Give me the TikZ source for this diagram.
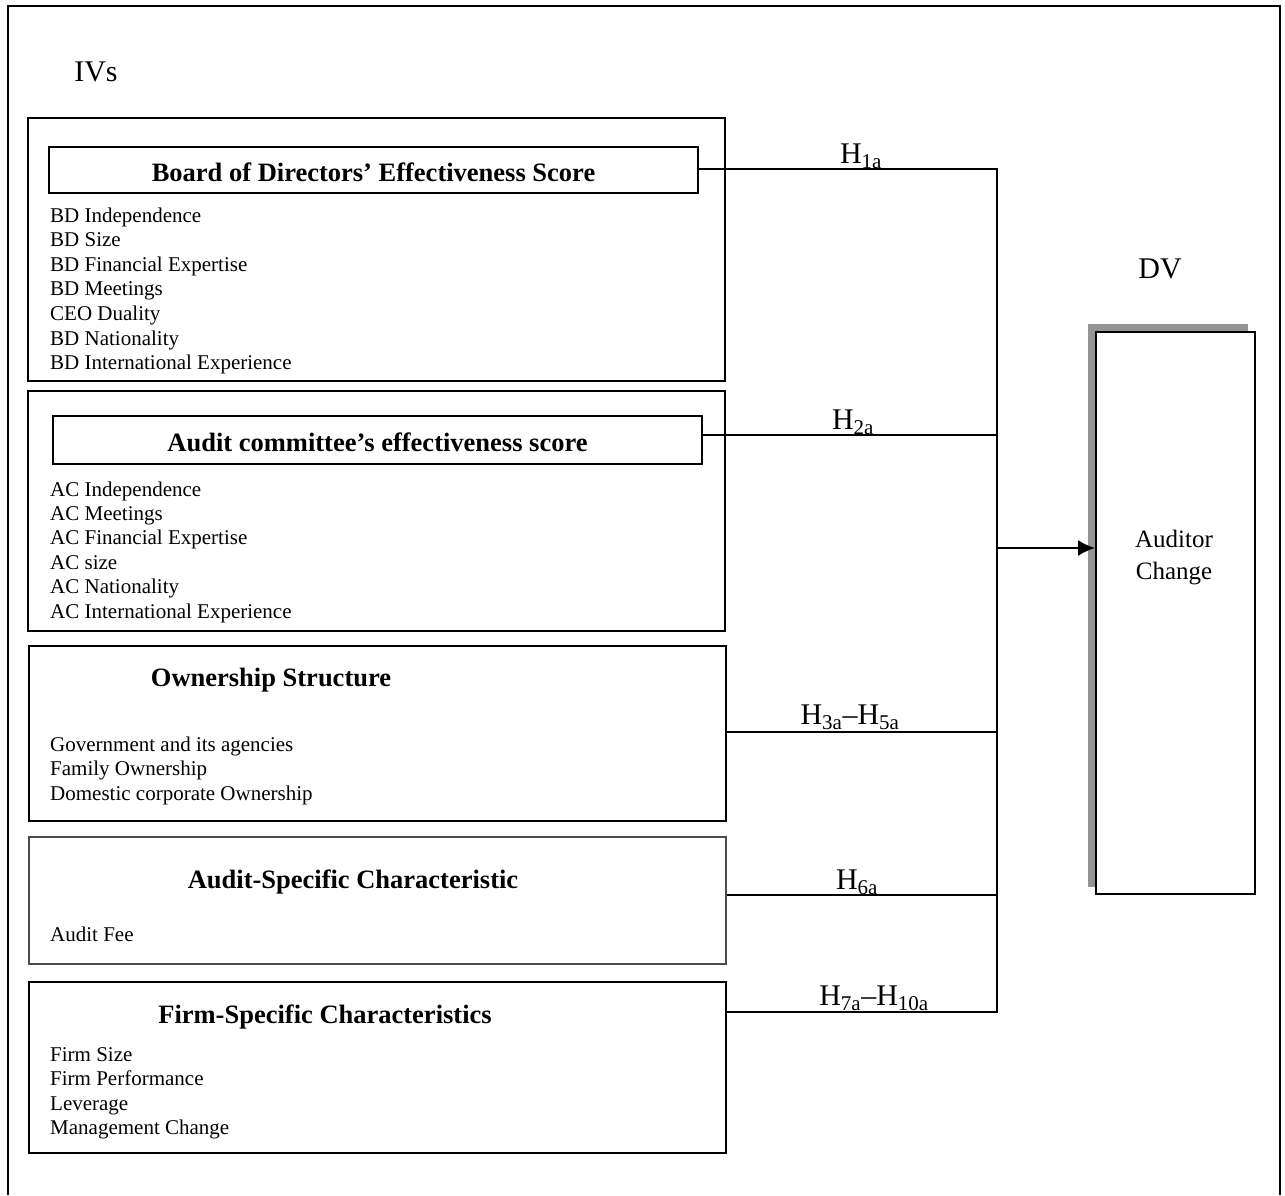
\documentclass[tikz,border=0pt]{standalone}
\usepackage{fontspec}
\setmainfont{Liberation Serif}
\usetikzlibrary{arrows.meta}
\begin{document}
\begin{tikzpicture}[x=1pt,y=-1pt,
  frame/.style={draw, line width=2pt},
  boxline/.style={draw, line width=2pt},
  item/.style={anchor=west, inner sep=0pt, font=\fontsize{21}{25}\selectfont, text height=14pt, text depth=4pt},
  head/.style={font=\bfseries\fontsize{26.5}{30}\selectfont, inner sep=0pt},
  hyp/.style={font=\fontsize{30}{36}\selectfont, anchor=base, inner sep=0pt},
  conn/.style={line width=2pt},
]
\useasboundingbox (0,0) rectangle (1285,1195);
% outer frame (open at bottom)
\draw[frame] (8,1195) -- (8,6) -- (1280,6) -- (1280,1195);
\node[font=\fontsize{30}{36}\selectfont, inner sep=0pt] (ivs) at (96,72) {IVs};

% Box 1: Board of directors
\draw[boxline] (28,118) rectangle (725,381);
\node[boxline, minimum width=649pt, minimum height=46pt, anchor=north west, inner sep=0pt] (bdt) at (48,146) {};
\node[head] (bdh) at ([yshift=-2pt]bdt.center) {Board of Directors’ Effectiveness Score};
\foreach \t [count=\i] in {BD Independence, BD Size, BD Financial Expertise, BD Meetings, CEO Duality, BD Nationality, BD International Experience}
  \node[item] (bd\i) at (50,{217+24.6*(\i-1)}) {\t};

% Box 2: Audit committee
\draw[boxline] (28,391) rectangle (725,631);
\node[boxline, minimum width=649pt, minimum height=48pt, anchor=north west, inner sep=0pt] (act) at (52,415) {};
\node[head] (ach) at ([yshift=-2pt]act.center) {Audit committee’s effectiveness score};
\foreach \t [count=\i] in {AC Independence, AC Meetings, AC Financial Expertise, AC size, AC Nationality, AC International Experience}
  \node[item] (ac\i) at (50,{491+24.4*(\i-1)}) {\t};

% Box 3: Ownership
\node[boxline, minimum width=697pt, minimum height=175pt, anchor=north west, inner sep=0pt] (own) at (28,645) {};
\node[head] (ownh) at (271,680) {Ownership Structure};
\foreach \t [count=\i] in {Government and its agencies, Family Ownership, Domestic corporate Ownership}
  \node[item] (ow\i) at (50,{746+24.5*(\i-1)}) {\t};

% Box 4: Audit-specific
\node[draw=black!70, line width=2pt, minimum width=697pt, minimum height=127pt, anchor=north west, inner sep=0pt] (aud) at (28,836) {};
\node[head] (audh) at (353,882) {Audit-Specific Characteristic};
\node[item] (au1) at (50,936) {Audit Fee};

% Box 5: Firm-specific
\node[boxline, minimum width=697pt, minimum height=171pt, anchor=north west, inner sep=0pt] (firm) at (28,981) {};
\node[head] (firmh) at (325,1017) {Firm-Specific Characteristics};
\foreach \t [count=\i] in {Firm Size, Firm Performance, Leverage, Management Change}
  \node[item] (fi\i) at (50,{1056+24.5*(\i-1)}) {\t};

% DV box with shadow
\fill[black!42] (1088,324) rectangle (1248,887);
\node[draw, line width=2pt, fill=white, minimum width=159pt, minimum height=562pt, anchor=north west, inner sep=0pt] (dv) at (1095,331) {};
\node[font=\fontsize{25}{32}\selectfont, align=center, inner sep=0pt] (dvt) at (1174,558) {Auditor\\Change};
\node[font=\fontsize{30}{36}\selectfont, inner sep=0pt] (dvl) at (1160,269) {DV};

% connectors
\coordinate (j1) at (997,169);
\coordinate (j2) at (997,435);
\coordinate (j3) at (997,732);
\coordinate (j4) at (997,895);
\coordinate (j5) at (997,1012);
\coordinate (ja) at (997,548);
\draw[conn] (bdt.east |- j1) -- (j1);
\draw[conn] (act.east |- j2) -- (j2);
\draw[conn] (own.east |- j3) -- (j3);
\draw[conn] (aud.east |- j4) -- (j4);
\draw[conn] (firm.east |- j5) -- (j5);
\draw[conn, line cap=rect] (j1) -- (j5);
\draw[conn, -{Latex[length=17pt,width=16pt]}] (ja) -- (dv.west |- ja);

\node[hyp] (h1) at (861,163) {H\textsubscript{1a}};
\node[hyp] (h2) at (853,429) {H\textsubscript{2a}};
\node[hyp] (h3) at (850,724) {H\textsubscript{3a}--H\textsubscript{5a}};
\node[hyp] (h6) at (857,889) {H\textsubscript{6a}};
\node[hyp] (h7) at (874,1005) {H\textsubscript{7a}--H\textsubscript{10a}};
\end{tikzpicture}
\end{document}
